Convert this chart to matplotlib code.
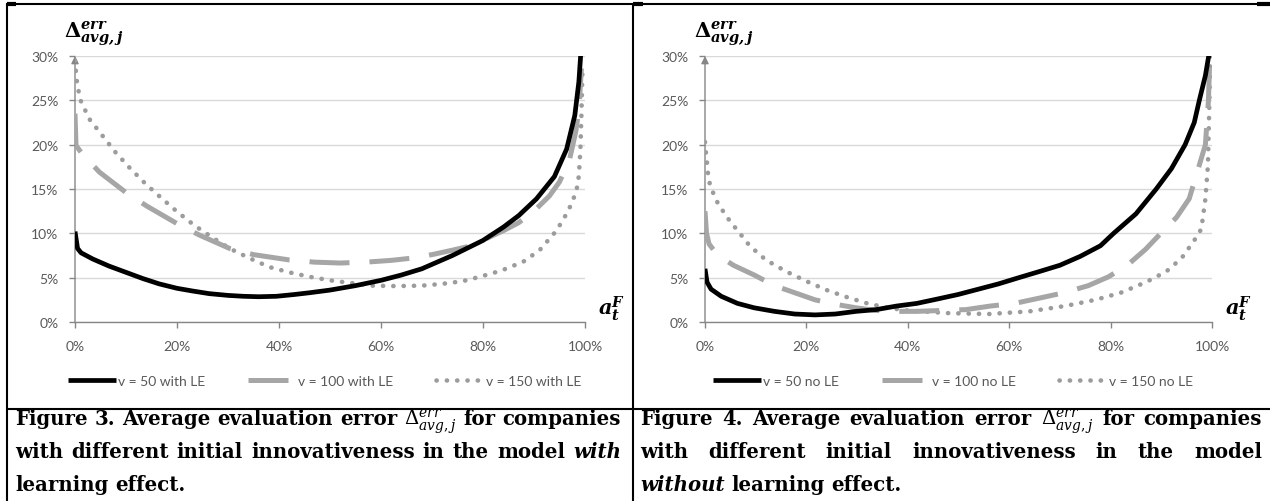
import matplotlib
matplotlib.use("Agg")
import matplotlib.pyplot as plt
from matplotlib.lines import Line2D
from matplotlib.ticker import FuncFormatter

# ---------------- data (x: a_t^F in %, y: error in %) ----------------
x_v50_le = [0, 0.5, 1.2, 3.5, 6.7, 10, 13.3, 16.5, 20, 23, 26.3, 30, 33, 36, 39.5, 43, 46, 50, 55, 60,
            64, 68, 74, 80, 84, 87, 90.5, 94, 96.4, 98, 98.8, 99.2]
y_v50_le = [10.2, 8.3, 7.8, 7.1, 6.3, 5.6, 4.9, 4.3, 3.8, 3.5, 3.2, 3.0, 2.9, 2.85, 2.9, 3.1, 3.3, 3.6, 4.1, 4.7,
            5.3, 6.0, 7.5, 9.2, 10.7, 12.0, 13.9, 16.4, 19.5, 23.3, 27.1, 30.5]

x_v100_le = [0, 0.2, 1.5, 4.8, 10, 14, 20, 24.4, 30.3, 35, 42, 47, 52, 57, 62, 66, 70, 74, 77, 81,
             84, 87, 90.5, 93, 95, 97, 98.2, 98.8, 99.3]
y_v100_le = [23.5, 19.9, 18.9, 16.9, 14.6, 13.1, 11.1, 9.8, 8.3, 7.6, 7.0, 6.75, 6.65, 6.75, 6.95, 7.2, 7.6, 8.1, 8.5, 9.5,
             10.3, 11.2, 12.8, 14.2, 15.8, 18.4, 21.5, 24.0, 28.6]

x_v150_le = [0, 0.3, 0.65, 1.0, 2.8, 5.4, 8.0, 10.7, 13.8, 16.9, 20.1, 23.4, 27, 30.3, 34.2, 38.1, 42, 46, 50, 54,
             58, 63, 68, 72, 76, 79.4, 83.6, 87.9, 91.1, 94.4, 96.7, 98.3, 98.8, 99.1, 99.3, 99.5]
y_v150_le = [29.5, 27.4, 26.2, 25.1, 22.9, 21.0, 19.1, 17.4, 15.6, 14.0, 12.4, 10.9, 9.5, 8.3, 7.2, 6.2, 5.6, 5.1, 4.7, 4.4,
             4.1, 4.05, 4.1, 4.3, 4.6, 5.1, 5.8, 6.8, 8.1, 10.3, 12.5, 14.7, 16.5, 19.5, 23.3, 28.6]

x_v50_no = [0, 0.4, 1.2, 3.2, 6.4, 9.7, 13.7, 17.7, 21.7, 25.7, 29.8, 33.8, 37.8, 41.8, 45.9, 49.9, 53.9, 57.9,
            61.9, 66, 70, 74, 78, 80.6, 85, 89, 92, 94.7, 96.5, 97.5, 98.7, 99.5]
y_v50_no = [6.0, 4.5, 3.7, 2.9, 2.1, 1.6, 1.2, 0.9, 0.8, 0.9, 1.2, 1.4, 1.8, 2.1, 2.6, 3.1, 3.7, 4.3,
            5.0, 5.7, 6.4, 7.4, 8.6, 10.0, 12.2, 15.0, 17.3, 20.0, 22.5, 25.0, 27.8, 30.5]

x_v100_no = [0, 0.3, 0.8, 2.4, 5.6, 9.7, 13.7, 17.7, 21.7, 25.7, 29.8, 33.8, 37.8, 41.8, 46.7, 51.5, 56.3, 61.1,
             66, 70.8, 75.6, 79.6, 83.7, 86.9, 89.9, 93, 95.5, 97.5, 98.7, 99.3, 99.6]
y_v100_no = [12.5, 10.0, 8.8, 7.6, 6.4, 5.3, 4.1, 3.3, 2.5, 2.0, 1.6, 1.3, 1.2, 1.2, 1.3, 1.4, 1.8, 2.1,
             2.7, 3.3, 4.1, 5.1, 6.6, 8.2, 10.0, 11.8, 13.9, 17.7, 20.0, 25.0, 30.5]

x_v150_no = [0, 0.2, 0.4, 0.6, 1.0, 1.8, 2.6, 3.8, 5.0, 6.6, 8.8, 12, 16, 20, 24, 28, 32, 36, 40, 48, 56,
             64, 71, 77, 82, 87, 91, 94, 96.5, 97.9, 98.7, 99.2, 99.5, 99.7]
y_v150_no = [20.3, 19.0, 17.9, 16.7, 15.4, 14.3, 13.3, 12.3, 11.3, 10.2, 8.6, 7.0, 5.7, 4.6, 3.6, 2.8, 2.1, 1.6, 1.3, 1.0, 0.9,
             1.2, 1.8, 2.5, 3.3, 4.5, 5.7, 7.2, 9.2, 10.5, 13.9, 17.7, 25.2, 30.5]

x_ticks = [0, 20, 40, 60, 80, 100]
y_ticks = [0, 5, 10, 15, 20, 25, 30]

labels_le = ["v = 50 with LE", "v = 100 with LE", "v = 150 with LE"]
labels_no = ["v = 50 no LE", "v = 100 no LE", "v = 150 no LE"]

# ---------------- figure ----------------
W, H = 1270, 502
fig = plt.figure(figsize=(W / 100, H / 100), dpi=100)
plt.rcParams['mathtext.fontset'] = 'dejavuserif'

AX_GRAY = '#868686'
TXT_GRAY = '#595959'
GRID = '#d9d9d9'
LINE_GRAY = '#a6a6a6'
TICK_FONT = ['Lato', 'DejaVu Sans']


def px_box(x0, x1, ytop, ybot):
    return [x0 / W, 1 - ybot / H, (x1 - x0) / W, (ybot - ytop) / H]


def draw_panel(rect, series, labels, legend_dx):
    ax = fig.add_axes(rect)
    styles = [
        dict(color='black', lw=3.4, ls='-', solid_capstyle='butt', solid_joinstyle='round', zorder=5),
        dict(color=LINE_GRAY, lw=3.6, ls=(0, (8, 4)), dash_capstyle='butt', zorder=4),
        dict(color='#9c9c9c', lw=3.3, ls=(0, (0.05, 2.2)), dash_capstyle='round', zorder=3),
    ]
    for (xs, ys), st, lab in zip(series, styles, labels):
        ax.plot(xs, ys, label=lab, **st)
    ax.set_xlim(0, 100)
    ax.set_ylim(0, 30)
    ax.set_xticks(x_ticks)
    ax.set_yticks(y_ticks)
    pct = FuncFormatter(lambda v, p: f"{int(round(v))}%")
    ax.xaxis.set_major_formatter(pct)
    ax.yaxis.set_major_formatter(pct)
    for s in ['top', 'right', 'left']:
        ax.spines[s].set_visible(False)
    ax.spines['bottom'].set_color(AX_GRAY)
    ax.spines['bottom'].set_linewidth(1.0)
    ax.spines['bottom'].set_zorder(2)
    ax.tick_params(axis='both', colors=AX_GRAY, labelcolor=TXT_GRAY, labelsize=10,
                   length=4, width=1, direction='out')
    ax.tick_params(axis='x', pad=9)
    ax.tick_params(axis='y', pad=8)
    for t in ax.get_xticklabels() + ax.get_yticklabels():
        t.set_fontfamily(TICK_FONT)
    ax.yaxis.grid(True, color=GRID, lw=1.0, zorder=0)
    ax.set_axisbelow(True)
    ax.annotate('', xy=(0, 30), xytext=(0, 0), xycoords='data',
                arrowprops=dict(arrowstyle='-|>', color=AX_GRAY, lw=1.0,
                                mutation_scale=11, shrinkA=0, shrinkB=0),
                annotation_clip=False, zorder=2)
    ax.text(-0.022, 1.03, r'$\mathbf{\Delta}_{\mathbfit{avg,j}}^{\mathbfit{err}}$',
            transform=ax.transAxes, fontsize=15, ha='left', va='bottom', color='black')
    ax.text(1.025, 0.0, r'$\mathbfit{a}_{\mathbfit{t}}^{\mathbfit{F}}$',
            transform=ax.transAxes, fontsize=15, ha='left', va='bottom', color='black')
    leg = ax.legend(loc='center', bbox_to_anchor=(0.5 + legend_dx, -0.222), ncol=3, frameon=False,
                    handlelength=3.45, handletextpad=0.15, columnspacing=3.1,
                    prop=dict(family=TICK_FONT, size=10))
    for t in leg.get_texts():
        t.set_color(TXT_GRAY)
    return ax


draw_panel(px_box(75, 585, 57, 323),
           [(x_v50_le, y_v50_le), (x_v100_le, y_v100_le), (x_v150_le, y_v150_le)],
           labels_le, -0.01)
draw_panel(px_box(705, 1212, 57, 323),
           [(x_v50_no, y_v50_no), (x_v100_no, y_v100_no), (x_v150_no, y_v150_no)],
           labels_no, -0.01)

# ---------------- table borders ----------------
def hline(y, x0, x1, lw=1.5):
    fig.add_artist(Line2D([x0 / W, x1 / W], [1 - y / H, 1 - y / H], color='black', lw=lw,
                          transform=fig.transFigure, solid_capstyle='butt'))


def vline(x, y0, y1, lw=1.5):
    fig.add_artist(Line2D([x / W, x / W], [1 - y0 / H, 1 - y1 / H], color='black', lw=lw,
                          transform=fig.transFigure, solid_capstyle='butt'))


hline(5, 6, W)
hline(410, 6, W)
vline(7, 4, H)
vline(633, 4, H)
hline(5, 7, 16, lw=3)
hline(5, 633, 643, lw=3)
hline(5, 1257, W, lw=3)

# ---------------- captions ----------------
CAP_FONT = 'DejaVu Serif'
renderer = fig.canvas.get_renderer()
MATH = r'$\Delta_{avg,j}^{err}$'


def make_word(txt, style, size):
    kw = dict(fontfamily=CAP_FONT, fontsize=size, fontweight='bold', color='black',
              ha='left', va='baseline', transform=fig.transFigure)
    if style == 'bi':
        kw['fontstyle'] = 'italic'
    return fig.text(0, 0, txt, **kw)


def measure(words_, size):
    arts = [make_word(t, s, size) for t, s in words_]
    widths = [a.get_window_extent(renderer).width for a in arts]
    a1 = make_word('a b', 'b', size)
    a2 = make_word('ab', 'b', size)
    sp = a1.get_window_extent(renderer).width - a2.get_window_extent(renderer).width
    for a in arts + [a1, a2]:
        a.remove()
    return widths, sp


def draw_line(words_, x0, x1, y, size, justify=True):
    widths, sp = measure(words_, size)
    if justify and len(words_) > 1:
        gap = (x1 - x0 - sum(widths)) / (len(words_) - 1)
    else:
        gap = sp
    x = x0
    for (t, s), w in zip(words_, widths):
        a = make_word(t, s, size)
        a.set_position((x / W, 1 - y / H))
        x += w + gap


def words(s, style='b'):
    return [(w, style) for w in s.split()]


cap_left = [
    (words('Figure 3. Average evaluation error') + [(MATH, 'b')] + words('for companies'), True),
    (words('with different initial innovativeness in the model') + [('with', 'bi')], True),
    (words('learning effect.'), False),
]
cap_right = [
    (words('Figure 4. Average evaluation error') + [(MATH, 'b')] + words('for companies'), True),
    (words('with different initial innovativeness in the model'), True),
    ([('without', 'bi')] + words('learning effect.'), False),
]

# fit caption size so the widest justified line (with normal spaces) fits its column
base = 12.0
ratio = 10.0
for ws, j in cap_left:
    if j:
        wd, sp = measure(ws, base)
        nat = sum(wd) + sp * (len(ws) - 1)
        ratio = min(ratio, (621 - 15) / nat)
for ws, j in cap_right:
    if j:
        wd, sp = measure(ws, base)
        nat = sum(wd) + sp * (len(ws) - 1)
        ratio = min(ratio, (1262 - 640) / nat)
CAP_SIZE = base * ratio * 0.995

baselines = [425, 458, 491]
for (ws, j), yb in zip(cap_left, baselines):
    draw_line(ws, 15, 621, yb, CAP_SIZE, j)
for (ws, j), yb in zip(cap_right, baselines):
    draw_line(ws, 640, 1262, yb, CAP_SIZE, j)

fig.savefig('out.png', dpi=100)
